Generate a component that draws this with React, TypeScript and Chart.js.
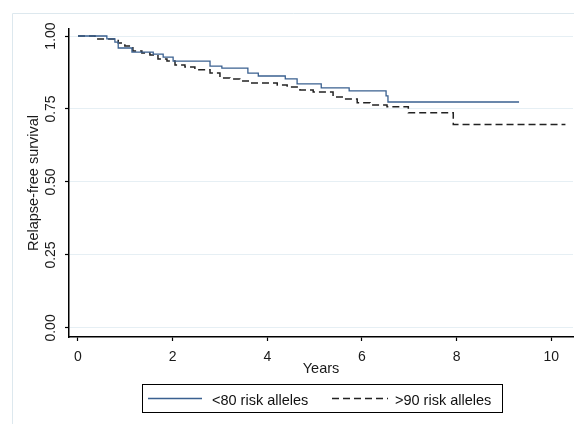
import React, { useEffect, useRef } from "react";
import { Chart, registerables } from "chart.js";

Chart.register(...registerables);

const seriesNames = ["<80 risk alleles", ">90 risk alleles"];
const lowTimes = [0, 0.61, 0.78, 0.85, 1.14, 1.59, 1.8, 2.01, 2.79, 3.04, 3.59, 3.81, 4.38, 4.63, 5.14, 5.73, 6.51, 6.55, 9.32];
const lowSurv = [1, 0.99, 0.979, 0.959, 0.945, 0.938, 0.928, 0.914, 0.897, 0.89, 0.873, 0.863, 0.853, 0.836, 0.822, 0.812, 0.795, 0.774, 0.774];
const highTimes = [0, 0.36, 0.85, 0.99, 1.16, 1.35, 1.52, 1.69, 1.88, 2.05, 2.26, 2.47, 2.79, 3.0, 3.21, 3.42, 3.64, 4.21, 4.42, 4.69, 4.97, 5.39, 5.6, 5.9, 6.17, 6.53, 6.98, 7.93, 10.3];
const highSurv = [1, 0.99, 0.976, 0.966, 0.949, 0.942, 0.935, 0.921, 0.914, 0.901, 0.894, 0.884, 0.873, 0.856, 0.853, 0.846, 0.839, 0.832, 0.825, 0.815, 0.808, 0.791, 0.784, 0.771, 0.764, 0.758, 0.737, 0.697, 0.697];
const xTicks = [0, 2, 4, 6, 8, 10];
const yTicks = [0, 0.25, 0.5, 0.75, 1];
const yTickLabels = ["0.00", "0.25", "0.50", "0.75", "1.00"];
const xTitle = "Years";
const yTitle = "Relapse-free survival";

const FONT = "'Liberation Sans', Arial, sans-serif";
const BLUE = "#3a6090";
const DARK = "#222222";

export default function App() {
  const ref = useRef<HTMLCanvasElement | null>(null);
  useEffect(() => {
    if (!ref.current) return;
    const decor = {
      id: "decor",
      beforeDraw(chart: any) {
        const ctx = chart.ctx;
        ctx.save();
        ctx.strokeStyle = "#dde8ee";
        ctx.lineWidth = 1;
        ctx.beginPath();
        ctx.moveTo(12.5, 424);
        ctx.lineTo(12.5, 13.5);
        ctx.lineTo(574, 13.5);
        ctx.stroke();
        ctx.restore();
      },
      afterDraw(chart: any) {
        const ctx = chart.ctx;
        const ys = chart.scales.y;
        ctx.save();
        ctx.fillStyle = "#1a1a1a";
        ctx.font = "14px " + FONT;
        ctx.textAlign = "center";
        ctx.textBaseline = "alphabetic";
        ys.ticks.forEach((t: any) => {
          const py = ys.getPixelForValue(t.value);
          ctx.save();
          ctx.translate(55, py);
          ctx.rotate(-Math.PI / 2);
          ctx.fillText(yTickLabels[yTicks.indexOf(t.value)] ?? String(t.value), 0, 0);
          ctx.restore();
        });
        // legend
        ctx.strokeStyle = "#000";
        ctx.lineWidth = 1;
        ctx.strokeRect(142.5, 384.5, 360, 28);
        ctx.font = "14.5px " + FONT;
        ctx.textAlign = "left";
        ctx.fillStyle = "#111";
        ctx.beginPath();
        ctx.strokeStyle = BLUE;
        ctx.lineWidth = 1.3;
        ctx.moveTo(148, 398.5);
        ctx.lineTo(202, 398.5);
        ctx.stroke();
        ctx.fillText(seriesNames[0], 212, 405);
        ctx.beginPath();
        ctx.strokeStyle = DARK;
        ctx.lineWidth = 1.5;
        ctx.setLineDash([7, 4]);
        ctx.moveTo(332, 398.5);
        ctx.lineTo(388, 398.5);
        ctx.stroke();
        ctx.setLineDash([]);
        ctx.fillText(seriesNames[1], 395, 405);
        ctx.restore();
      },
    };
    const chart = new Chart(ref.current, {
      type: "line",
      data: {
        datasets: [
          {
            label: seriesNames[0],
            data: lowTimes.map((t, i) => ({ x: t, y: lowSurv[i] })),
            borderColor: BLUE,
            borderWidth: 1.3,
            pointRadius: 0,
            stepped: "before",
            fill: false,
          },
          {
            label: seriesNames[1],
            data: highTimes.map((t, i) => ({ x: t, y: highSurv[i] })),
            borderColor: DARK,
            borderWidth: 1.5,
            borderDash: [7, 4],
            pointRadius: 0,
            stepped: "before",
            fill: false,
          },
        ],
      },
      plugins: [decor],
      options: {
        animation: false,
        responsive: false,
        maintainAspectRatio: false,
        layout: { padding: { top: 29, right: 1, bottom: 42, left: 0 } },
        plugins: { legend: { display: false }, tooltip: { enabled: false } },
        scales: {
          x: {
            type: "linear",
            min: -0.19,
            max: 10.46,
            afterBuildTicks: (s: any) => {
              s.ticks = xTicks.map((v) => ({ value: v }));
            },
            afterFit: (s: any) => {
              s.height = 45;
            },
            grid: { drawOnChartArea: false, drawTicks: true, tickLength: 4, tickColor: "#000", tickWidth: 1.2 },
            border: { display: true, color: "#000", width: 1.5 },
            ticks: { color: "#1a1a1a", font: { family: FONT, size: 14 }, padding: 8, maxRotation: 0, autoSkip: false },
            title: { display: true, text: xTitle, color: "#1a1a1a", font: { family: FONT, size: 14.5 }, padding: { top: 0, bottom: 4 } },
          },
          y: {
            type: "linear",
            min: -0.031,
            max: 1.024,
            afterBuildTicks: (s: any) => {
              s.ticks = yTicks.map((v) => ({ value: v }));
            },
            afterFit: (s: any) => {
              s.width = 69;
            },
            grid: { color: "#e6eff4", lineWidth: 1, drawTicks: true, tickLength: 4, tickColor: "#000", tickWidth: 1.2 },
            border: { display: true, color: "#000", width: 1.5 },
            ticks: { display: false },
            title: { display: true, text: yTitle, color: "#1a1a1a", font: { family: FONT, size: 14.5 }, padding: { top: 25, bottom: 0 } },
          },
        },
      },
    } as any);
    return () => chart.destroy();
  }, []);
  return (
    <div style={{ position: "fixed", left: 0, top: 0, width: 574, height: 424, background: "#fff" }}>
      <canvas ref={ref} width={574} height={424} style={{ width: 574, height: 424, display: "block" }} />
    </div>
  );
}
